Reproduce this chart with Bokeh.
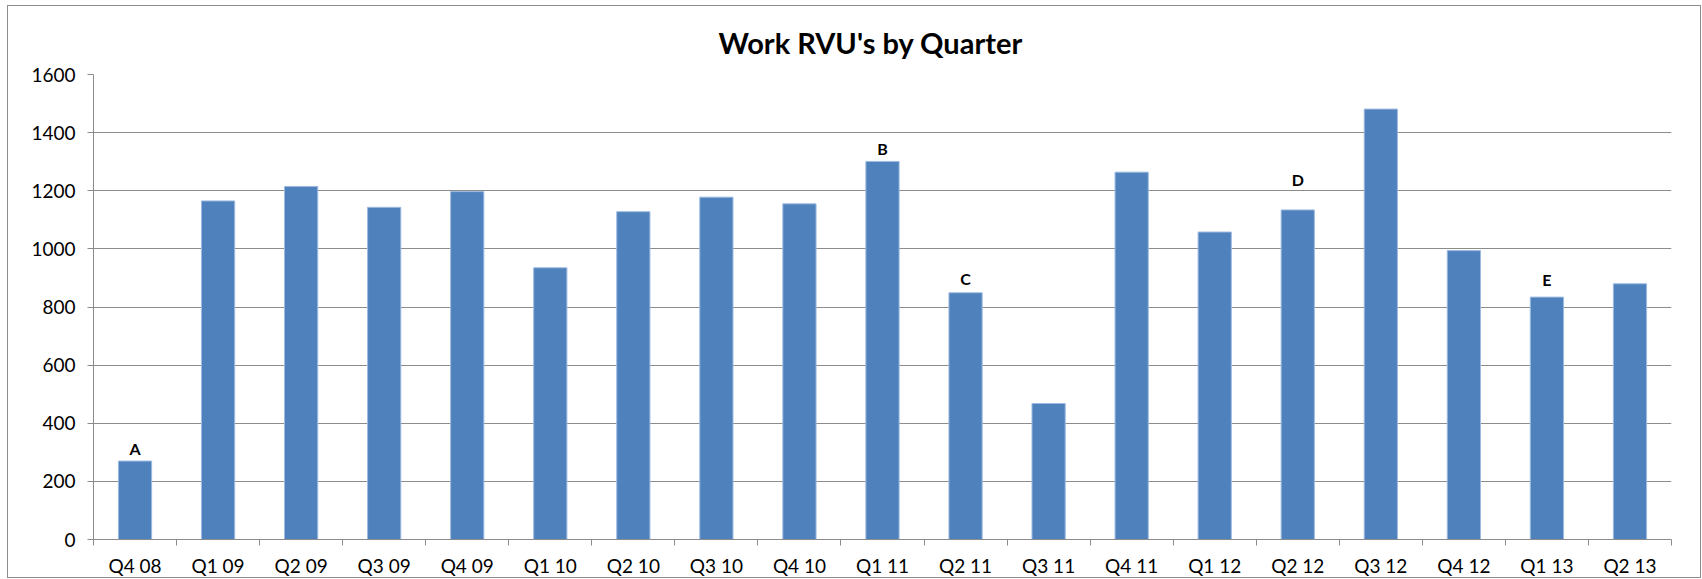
from bokeh.plotting import figure
from bokeh.models import ColumnDataSource, FixedTicker, Range1d
from bokeh.embed import file_html
from bokeh.resources import INLINE
from bokeh.core.properties import value

quarters = ["Q4 08", "Q1 09", "Q2 09", "Q3 09", "Q4 09", "Q1 10", "Q2 10", "Q3 10",
            "Q4 10", "Q1 11", "Q2 11", "Q3 11", "Q4 11", "Q1 12", "Q2 12", "Q3 12",
            "Q4 12", "Q1 13", "Q2 13"]
work_rvus = [270, 1165, 1215, 1143, 1197, 935, 1128, 1178, 1155, 1301, 849, 468,
             1264, 1058, 1134, 1481, 994, 834, 880]
y_ticks = [0, 200, 400, 600, 800, 1000, 1200, 1400, 1600]
note_quarters = ["Q4 08", "Q1 11", "Q2 11", "Q2 12", "Q1 13"]
note_letters = ["A", "B", "C", "D", "E"]
note_offsets = [-13, -13, -14, -30, -18]

FONT = "Lato"
GRID = "#8c8c8c"

xs = [i + 0.5 for i in range(len(quarters))]
src = ColumnDataSource(dict(x=xs, top=work_rvus))

p = figure(width=1694, height=573, output_backend="svg", toolbar_location=None,
           x_range=Range1d(0, len(quarters)), y_range=Range1d(0, 1600),
           min_border_left=85, min_border_right=31, min_border_top=68,
           min_border_bottom=37)
p.styles = {"border": "1px solid #8c8c8c", "box-sizing": "border-box",
            "margin-left": "7px", "margin-top": "5px"}

p.vbar(x="x", top="top", width=0.4, source=src, fill_color="#4F81BD",
       line_color="#9dbbe0", line_width=1)

idx = [quarters.index(q) for q in note_quarters]
nsrc = ColumnDataSource(dict(x=[xs[i] for i in idx], y=[work_rvus[i] for i in idx],
                             t=note_letters, off=note_offsets))
p.text(x="x", y="y", text="t", y_offset="off", source=nsrc, text_align="center",
       text_baseline="middle", text_font=value(FONT), text_font_style="bold",
       text_font_size="16px", text_color="black")

p.title.text = "Work RVU's by Quarter"
p.title.align = "left"
p.title.text_font = FONT
p.title.text_font_size = "29px"
p.title.text_font_style = "bold"
p.title.text_color = "black"
p.title.standoff = 29
p.title.offset = 625

p.xaxis.ticker = FixedTicker(ticks=xs, minor_ticks=list(range(len(quarters) + 1)))
p.xaxis.major_label_overrides = {x: q for x, q in zip(xs, quarters)}
p.xaxis.major_tick_line_color = None
p.xaxis.major_tick_out = 0
p.xaxis.major_tick_in = 0
p.xaxis.minor_tick_out = 6
p.xaxis.minor_tick_in = 0
p.xaxis.minor_tick_line_color = GRID
p.xaxis.axis_line_color = GRID
p.xaxis.major_label_standoff = 8

p.yaxis.ticker = FixedTicker(ticks=y_ticks)
p.yaxis.minor_tick_line_color = None
p.yaxis.major_tick_out = 6
p.yaxis.major_tick_in = 0
p.yaxis.major_tick_line_color = GRID
p.yaxis.axis_line_color = GRID
p.yaxis.major_label_standoff = 12

for ax in (p.xaxis, p.yaxis):
    ax.major_label_text_font = FONT
    ax.major_label_text_font_size = "19px"
    ax.major_label_text_color = "black"

p.xgrid.grid_line_color = None
p.ygrid.ticker = FixedTicker(ticks=y_ticks)
p.ygrid.grid_line_color = GRID
p.ygrid.grid_line_width = 1
p.outline_line_color = None

open("out.html", "w").write(file_html(p, INLINE))
